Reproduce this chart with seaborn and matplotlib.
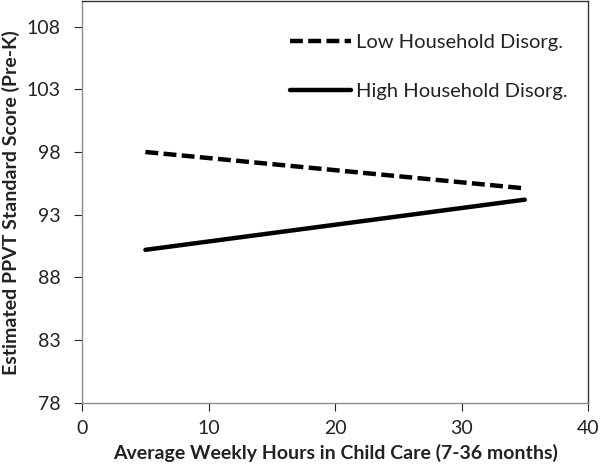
import pandas as pd
import matplotlib
matplotlib.use("Agg")
import matplotlib.pyplot as plt
import seaborn as sns

# values
hours = [5, 35]
low_disorg = [98.0, 95.1]
high_disorg = [90.2, 94.2]
groups = ["Low Household Disorg.", "High Household Disorg."]
x_ticks = [0, 10, 20, 30, 40]
y_ticks = [78, 83, 88, 93, 98, 103, 108]

df = pd.DataFrame({
    "Hours": hours + hours,
    "Score": low_disorg + high_disorg,
    "Group": [groups[0]] * len(hours) + [groups[1]] * len(hours),
})

sns.set_theme(style="white")
plt.rcParams['font.family'] = ['Lato', 'DejaVu Sans']

fig = plt.figure(figsize=(6.0, 4.74), dpi=100)
ax = fig.add_axes([0.137, 0.15, 0.843, 0.847])

sns.lineplot(data=df, x="Hours", y="Score", hue="Group", style="Group",
             palette={groups[0]: "black", groups[1]: "black"},
             dashes={groups[0]: (2.9, 1.2), groups[1]: ""},
             linewidth=3.2, ax=ax, legend=True)

ax.set_xlim(0, 40)
ax.set_ylim(78, 110)
ax.set_xticks(x_ticks)
ax.set_yticks(y_ticks)
ax.tick_params(axis="both", labelsize=14, colors="#222222", length=5.5,
               width=0.8, direction="out", bottom=True, left=True)
ax.tick_params(axis="y", pad=10)
ax.tick_params(axis="x", pad=7)
for t in ax.get_xticklines() + ax.get_yticklines():
    t.set_color("#8c8c8c")

ax.set_xlabel("Average Weekly Hours in Child Care (7-36 months)",
              fontsize=14, fontweight="bold", color="#222222", labelpad=5)
ax.set_ylabel("Estimated PPVT Standard Score (Pre-K)",
              fontsize=14, fontweight="bold", color="#222222", labelpad=5)

for side in ["left", "bottom"]:
    ax.spines[side].set_color("#8c8c8c")
    ax.spines[side].set_linewidth(1.0)
for side in ["top", "right"]:
    ax.spines[side].set_color("#333333")
    ax.spines[side].set_linewidth(1.0)

leg = ax.legend(loc="upper right", frameon=False, fontsize=14.5,
                handlelength=3.0, handletextpad=0.25, labelspacing=1.6,
                borderaxespad=0, bbox_to_anchor=(0.975, 0.94))
for line in leg.get_lines():
    line.set_linewidth(3.2)
for txt in leg.get_texts():
    txt.set_color("#222222")

fig.savefig("out.png", dpi=100)
